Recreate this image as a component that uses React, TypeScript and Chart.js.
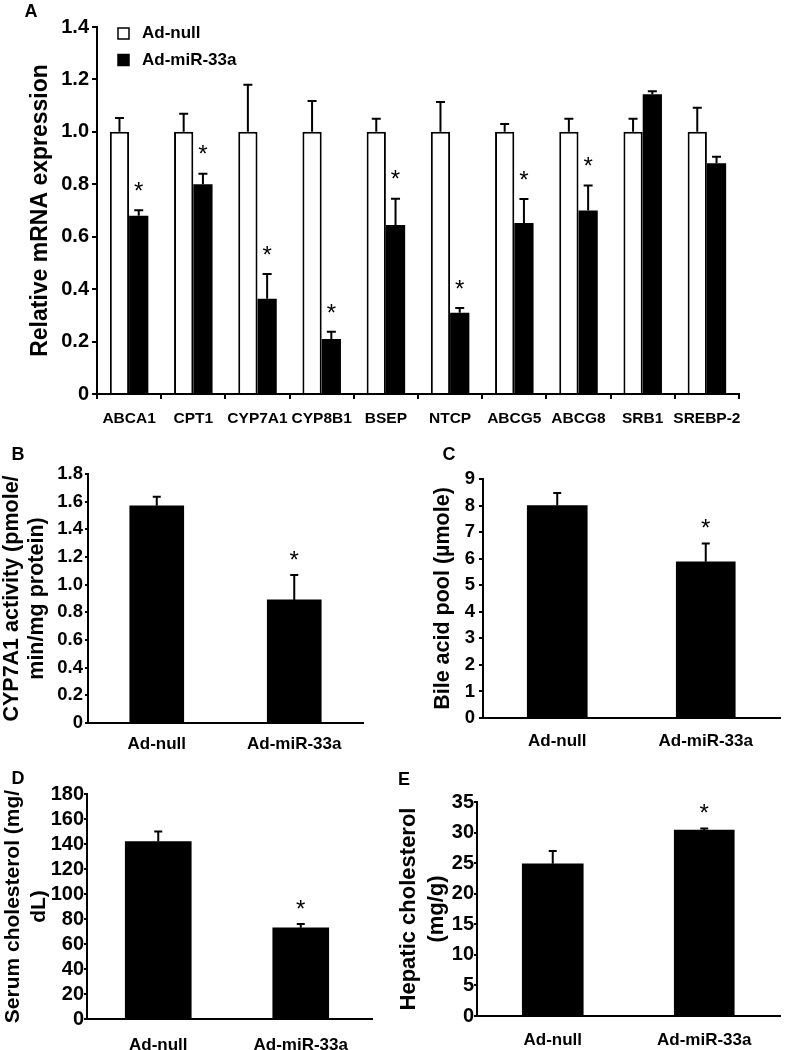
import React, { useEffect, useRef } from "react";
import { Chart, registerables } from "chart.js";

Chart.register(...registerables);

const FONT = '"Liberation Sans", Arial, Helvetica, sans-serif';
Chart.defaults.font.family = FONT;
Chart.defaults.color = "#000";

// ---------------- Panel A data ----------------
const geneLabels = ["ABCA1", "CPT1", "CYP7A1", "CYP8B1", "BSEP", "NTCP", "ABCG5", "ABCG8", "SRB1", "SREBP-2"];
const seriesNames = ["Ad-null", "Ad-miR-33a"];
const adNullExpr = [1, 1, 1, 1, 1, 1, 1, 1, 1, 1];
const adNullExprErr = [0.053, 0.069, 0.18, 0.118, 0.05, 0.114, 0.03, 0.05, 0.05, 0.092];
const adNullExprSig = [false, false, false, false, false, false, false, false, false, false];
const adMirExpr = [0.68, 0.8, 0.363, 0.21, 0.645, 0.31, 0.652, 0.7, 1.143, 0.88];
const adMirExprErr = [0.021, 0.04, 0.095, 0.027, 0.1, 0.018, 0.092, 0.095, 0.012, 0.025];
const adMirExprSig = [true, true, true, true, true, true, true, true, false, false];

// ---------------- Panels B-E data ----------------
const groupLabels = ["Ad-null", "Ad-miR-33a"];
const groupSig = [false, true];
const cyp7a1Activity = [1.57, 0.89];
const cyp7a1ActivityErr = [0.065, 0.18];
const bileAcidPool = [8.0, 5.88];
const bileAcidPoolErr = [0.47, 0.69];
const serumChol = [142, 73];
const serumCholErr = [8, 3];
const hepaticChol = [24.9, 30.4];
const hepaticCholErr = [2.1, 0.25];

const fmt1 = (v: any) => (Number(v) === 0 ? "0" : Number(v).toFixed(1));
const fmt0 = (v: any) => String(Math.round(Number(v)));

type Deco = {
  errs: number[][];
  sigs: boolean[][];
  capHalf: number;
  starGap: number;
  starSize: number;
  letter: { text: string; x: number; y: number; size: number };
  legend?: { x: number; y: number; row: number; box: number; textX: number; size: number };
};

function makeDeco(d: Deco) {
  return {
    id: "deco",
    afterDatasetsDraw(chart: any) {
      const ctx = chart.ctx;
      const ys = chart.scales.y;
      ctx.save();
      chart.data.datasets.forEach((ds: any, di: number) => {
        const meta = chart.getDatasetMeta(di);
        meta.data.forEach((el: any, i: number) => {
          const v = ds.data[i];
          if (v == null) return;
          const e = (d.errs[di] && d.errs[di][i]) || 0;
          const yTop = ys.getPixelForValue(v + e);
          ctx.strokeStyle = "#000";
          ctx.lineWidth = 2;
          ctx.beginPath();
          ctx.moveTo(el.x, el.y);
          ctx.lineTo(el.x, yTop);
          ctx.moveTo(el.x - d.capHalf, yTop);
          ctx.lineTo(el.x + d.capHalf, yTop);
          ctx.stroke();
          if (d.sigs[di] && d.sigs[di][i]) {
            ctx.fillStyle = "#000";
            ctx.font = `${d.starSize}px ${FONT}`;
            ctx.textAlign = "center";
            ctx.textBaseline = "alphabetic";
            ctx.fillText("*", el.x, yTop - d.starGap + 0.57 * d.starSize);
          }
        });
      });
      ctx.restore();
    },
    afterDraw(chart: any) {
      const ctx = chart.ctx;
      ctx.save();
      ctx.fillStyle = "#000";
      ctx.font = `bold ${d.letter.size}px ${FONT}`;
      ctx.textAlign = "center";
      ctx.textBaseline = "middle";
      ctx.fillText(d.letter.text, d.letter.x, d.letter.y);
      const L = d.legend;
      if (L) {
        chart.data.datasets.forEach((ds: any, i: number) => {
          const cy = L.y + i * L.row;
          ctx.fillStyle = ds.backgroundColor;
          ctx.fillRect(L.x, cy - L.box / 2, L.box, L.box);
          ctx.strokeStyle = "#000";
          ctx.lineWidth = 1.5;
          ctx.strokeRect(L.x, cy - L.box / 2, L.box, L.box);
          ctx.fillStyle = "#000";
          ctx.font = `bold ${L.size}px ${FONT}`;
          ctx.textAlign = "left";
          ctx.textBaseline = "middle";
          ctx.fillText(ds.label, L.textX, cy);
        });
      }
      ctx.restore();
    },
  };
}

function yAxis(o: any) {
  return {
    min: 0,
    max: o.max,
    ticks: {
      stepSize: o.step,
      autoSkip: false,
      color: "#000",
      font: { family: FONT, size: o.tickSize, weight: "bold" },
      padding: o.tickPad,
      callback: o.fmt,
    },
    grid: { display: true, drawOnChartArea: false, drawTicks: true, tickLength: o.tickLen, color: "#000", lineWidth: 2 },
    border: { display: true, color: "#000", width: 2 },
    title: {
      display: true,
      text: o.title,
      color: "#000",
      font: { family: FONT, size: o.titleSize, weight: "bold", lineHeight: o.titleLH },
      padding: { top: o.titlePad, bottom: 0 },
    },
    afterFit: (s: any) => {
      s.width = o.width;
    },
  };
}

function panelA() {
  return {
    type: "bar",
    data: {
      labels: geneLabels,
      datasets: [
        {
          label: seriesNames[0],
          data: adNullExpr,
          backgroundColor: "#ffffff",
          borderColor: "#000000",
          borderWidth: 2,
          categoryPercentage: 0.6,
          barPercentage: 1,
        },
        {
          label: seriesNames[1],
          data: adMirExpr,
          backgroundColor: "#000000",
          borderColor: "#000000",
          borderWidth: 0,
          categoryPercentage: 0.6,
          barPercentage: 1,
        },
      ],
    },
    options: {
      responsive: false,
      animation: false,
      devicePixelRatio: 1,
      layout: { padding: { top: 27, right: 49, left: 0, bottom: 0 } },
      plugins: { legend: { display: false }, tooltip: { enabled: false } },
      scales: {
        x: {
          offset: true,
          grid: { display: true, offset: true, drawOnChartArea: false, drawTicks: true, tickLength: 5, color: "#000", lineWidth: 2 },
          border: { display: true, color: "#000", width: 2 },
          ticks: { color: "#000", font: { family: FONT, size: 15.5, weight: "bold" }, padding: 10, maxRotation: 0, autoSkip: false },
          afterFit: (s: any) => {
            s.height = 46;
          },
        },
        y: yAxis({
          max: 1.4, step: 0.2, tickSize: 20, tickPad: 3, tickLen: 5, fmt: fmt1,
          title: "Relative mRNA expression", titleSize: 23, titleLH: 1.2, titlePad: 27, width: 97,
        }),
      },
    },
    plugins: [
      makeDeco({
        errs: [adNullExprErr, adMirExprErr],
        sigs: [adNullExprSig, adMirExprSig],
        capHalf: 4.5,
        starGap: 25,
        starSize: 24,
        letter: { text: "A", x: 31, y: 12, size: 18 },
        legend: { x: 118, y: 33.5, row: 26.5, box: 11, textX: 142, size: 17 },
      }),
    ],
  };
}

function simplePanel(o: any) {
  return {
    type: "bar",
    data: {
      labels: groupLabels,
      datasets: groupLabels.map((g, k) => ({
        label: g,
        data: o.values.map((v: number, i: number) => (i === k ? v : null)),
        backgroundColor: "#000000",
        borderWidth: 0,
        grouped: false,
        barThickness: o.thick[k],
      })),
    },
    options: {
      responsive: false,
      animation: false,
      devicePixelRatio: 1,
      layout: { padding: { top: o.padTop, right: o.padRight, left: 0, bottom: 0 } },
      plugins: { legend: { display: false }, tooltip: { enabled: false } },
      scales: {
        x: {
          offset: true,
          grid: { display: false },
          border: { display: true, color: "#000", width: 2 },
          ticks: { color: "#000", font: { family: FONT, size: 17, weight: "bold" }, padding: o.xPad, maxRotation: 0, autoSkip: false },
          afterFit: (s: any) => {
            s.height = o.xHeight;
          },
        },
        y: yAxis(o.y),
      },
    },
    plugins: [
      makeDeco({
        errs: [o.errs, o.errs],
        sigs: [groupSig, groupSig],
        capHalf: 4,
        starGap: 21,
        starSize: 24,
        letter: o.letter,
      }),
    ],
  };
}

function panelB() {
  return simplePanel({
    values: cyp7a1Activity, errs: cyp7a1ActivityErr, thick: [54, 54],
    padTop: 34, padRight: 27, xHeight: 47, xPad: 3,
    letter: { text: "B", x: 18, y: 15, size: 18 },
    y: {
      max: 1.8, step: 0.2, tickSize: 18.5, tickPad: 2, tickLen: 3, fmt: fmt1,
      title: ["CYP7A1 activity (pmole/", "min/mg protein)"], titleSize: 21.5, titleLH: 1.163, titlePad: 0, width: 88,
    },
  });
}

function panelC() {
  return simplePanel({
    values: bileAcidPool, errs: bileAcidPoolErr, thick: [60, 59],
    padTop: 39, padRight: 8, xHeight: 52, xPad: 5,
    letter: { text: "C", x: 59, y: 15, size: 18 },
    y: {
      max: 9, step: 1, tickSize: 18.5, tickPad: 4, tickLen: 4, fmt: fmt0,
      title: "Bile acid pool (µmole)", titleSize: 21.5, titleLH: 1.2, titlePad: 40, width: 93,
    },
  });
}

function panelD() {
  return simplePanel({
    values: serumChol, errs: serumCholErr, thick: [66, 56],
    padTop: 24, padRight: 18, xHeight: 31, xPad: 8,
    letter: { text: "D", x: 18, y: 9, size: 18 },
    y: {
      max: 180, step: 20, tickSize: 20, tickPad: 0, tickLen: 3, fmt: fmt0,
      title: ["Serum cholesterol (mg/", "dL)"], titleSize: 21, titleLH: 1.238, titlePad: 0, width: 87,
    },
  });
}

function panelE() {
  return simplePanel({
    values: hepaticChol, errs: hepaticCholErr, thick: [61, 60],
    padTop: 32, padRight: 8, xHeight: 34, xPad: 6,
    letter: { text: "E", x: 14, y: 10, size: 18 },
    y: {
      max: 35, step: 5, tickSize: 20, tickPad: 0, tickLen: 3, fmt: fmt0,
      title: ["Hepatic cholesterol", "(mg/g)"], titleSize: 22, titleLH: 1.273, titlePad: 5, width: 87,
    },
  });
}

type Box = { left: number; top: number; width: number; height: number };

function ChartPanel({ box, make }: { box: Box; make: () => any }) {
  const ref = useRef<HTMLCanvasElement | null>(null);
  useEffect(() => {
    if (!ref.current) return;
    const chart = new Chart(ref.current, make());
    return () => chart.destroy();
  }, []);
  return (
    <canvas
      ref={ref}
      width={box.width}
      height={box.height}
      style={{ position: "absolute", left: box.left, top: box.top, width: box.width, height: box.height }}
    />
  );
}

export default function App() {
  return (
    <div style={{ position: "absolute", left: 0, top: 0, width: 788, height: 1050, background: "#fff", overflow: "hidden" }}>
      <ChartPanel box={{ left: 0, top: 0, width: 788, height: 440 }} make={panelA} />
      <ChartPanel box={{ left: 0, top: 440, width: 390, height: 330 }} make={panelB} />
      <ChartPanel box={{ left: 390, top: 440, width: 398, height: 330 }} make={panelC} />
      <ChartPanel box={{ left: 0, top: 770, width: 390, height: 280 }} make={panelD} />
      <ChartPanel box={{ left: 390, top: 770, width: 398, height: 280 }} make={panelE} />
    </div>
  );
}
